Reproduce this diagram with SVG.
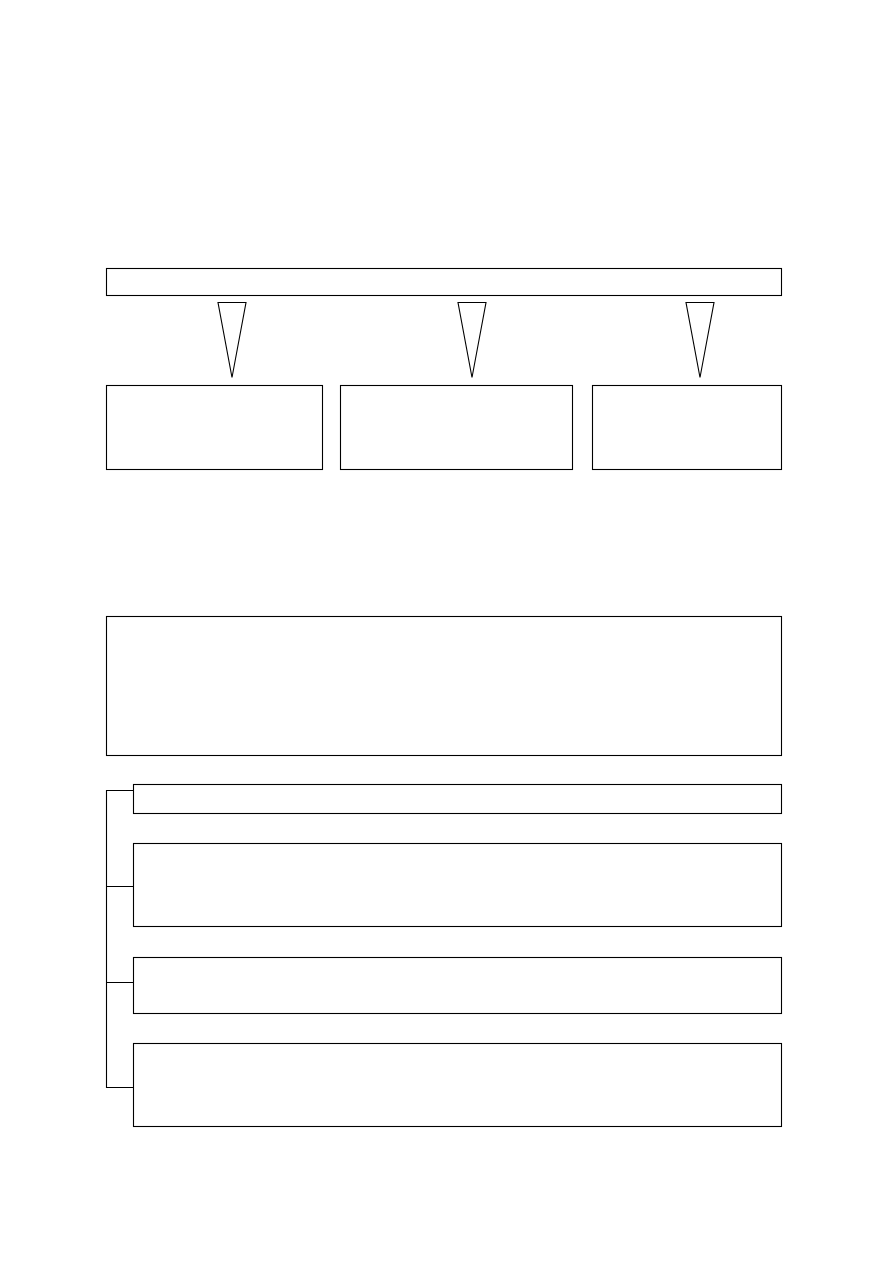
<svg xmlns="http://www.w3.org/2000/svg" width="893" height="1263" viewBox="0 0 893 1263">
<style>
.n{fill:#fff;stroke:#000;stroke-width:1.1}
.c{fill:none;stroke:#000;stroke-width:1.1}
.t{fill:#fff;stroke:#000;stroke-width:1.1;stroke-linejoin:miter}
</style>
<rect width="893" height="1263" fill="#fff"/>
<g id="top-bar"><rect class="n" x="106.5" y="268.5" width="675" height="27"/></g>
<g id="box-1"><rect class="n" x="106.5" y="385.5" width="216" height="84"/></g>
<g id="box-2"><rect class="n" x="340.5" y="385.5" width="232" height="84"/></g>
<g id="box-3"><rect class="n" x="592.5" y="385.5" width="189" height="84"/></g>
<g id="big-box"><rect class="n" x="106.5" y="616.5" width="675" height="139"/></g>
<g id="item-1"><rect class="n" x="133.5" y="784.5" width="648" height="29"/></g>
<g id="item-2"><rect class="n" x="133.5" y="843.5" width="648" height="83"/></g>
<g id="item-3"><rect class="n" x="133.5" y="957.5" width="648" height="56"/></g>
<g id="item-4"><rect class="n" x="133.5" y="1043.5" width="648" height="83"/></g>
<g id="connectors">
<polygon class="t" points="218,302.5 246,302.5 232,377.5"/>
<polygon class="t" points="458,302.5 486,302.5 472,377.5"/>
<polygon class="t" points="686,302.5 714,302.5 700,377.5"/>
<path class="c" d="M133.5,790.5 H106.5 V1087.5 H133.5 M106.5,886.5 H133.5 M106.5,982.5 H133.5"/>
</g>
</svg>
